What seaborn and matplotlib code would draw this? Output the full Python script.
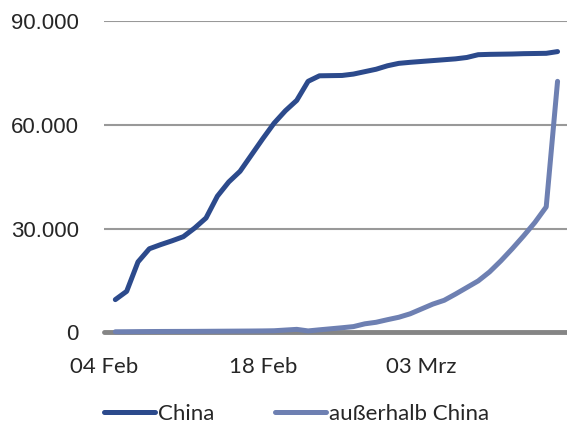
import pandas as pd
import matplotlib.pyplot as plt
import matplotlib.dates as mdates
import seaborn as sns

# cumulative cases (Feb 5 - Mar 15 2020)
dates = pd.date_range("2020-02-05", "2020-03-15", freq="D")
china = [9500, 11900, 20400, 24200, 25400, 26500, 27700, 30200, 33100, 39400,
         43500, 46600, 51300, 56000, 60500, 64100, 67100, 72600, 74200, 74250,
         74300, 74700, 75400, 76100, 77100, 77800, 78100, 78350, 78600, 78850,
         79100, 79500, 80300, 80400, 80450, 80500, 80600, 80650, 80700, 81200]
outside = [200, 220, 250, 270, 290, 300, 310, 320, 340, 360,
           380, 400, 420, 450, 500, 700, 900, 450, 770, 1070,
           1370, 1700, 2500, 2950, 3700, 4400, 5400, 6800, 8200, 9300,
           11100, 13000, 14900, 17500, 20700, 24200, 27900, 31800, 36300, 72600]

series_names = ["China", "außerhalb China"]
colors = ["#2C4A8C", "#6E80B2"]
xtick_dates = ["2020-02-04", "2020-02-18", "2020-03-03"]
xtick_labels = ["04 Feb", "18 Feb", "03 Mrz"]
yticks = [0, 30000, 60000, 90000]
ytick_labels = ["0", "30.000", "60.000", "90.000"]

df = pd.DataFrame({"Datum": dates, series_names[0]: china, series_names[1]: outside})
long_df = df.melt(id_vars="Datum", var_name="Region", value_name="Faelle")

sns.set_style("white")

fig = plt.figure(figsize=(5.67, 4.23), dpi=100)
ax = fig.add_axes([0.1834, 0.214, 0.8166, 0.736])

# grid and zero line
for y in yticks[1:]:
    ax.axhline(y, color="#999999", lw=1.5, zorder=1)
ax.axhline(0, color="#858585", lw=3.5, zorder=1, clip_on=False)

sns.lineplot(data=long_df, x="Datum", y="Faelle", hue="Region",
             hue_order=series_names, palette=colors, linewidth=3.6,
             ax=ax, zorder=3, clip_on=False)
for line in ax.get_lines():
    line.set_solid_capstyle("round")
    line.set_solid_joinstyle("round")

ax.set_xlim(pd.Timestamp("2020-02-04"), pd.Timestamp("2020-03-15") + pd.Timedelta(hours=20))
ax.set_ylim(0, 90000)

ax.set_xticks([mdates.date2num(pd.Timestamp(d)) for d in xtick_dates])
ax.set_xticklabels(xtick_labels, fontfamily="Lato", fontsize=16)
ax.set_yticks(yticks)
ax.set_yticklabels(ytick_labels, fontfamily="Liberation Sans", fontsize=16)
ax.tick_params(axis="x", length=0, pad=18)
ax.tick_params(axis="y", length=0, pad=18)
ax.set_xlabel("")
ax.set_ylabel("")
for side in ["top", "right", "left", "bottom"]:
    ax.spines[side].set_visible(False)

handles, labels = ax.get_legend_handles_labels()
ax.get_legend().remove()
fig.legend(handles, labels, loc="center", bbox_to_anchor=(0.523, 0.022), ncol=2,
           frameon=False, handlelength=2.3, handletextpad=0.15, columnspacing=2.7,
           prop={"family": "Lato", "size": 16})

fig.savefig("out.png", dpi=100)
